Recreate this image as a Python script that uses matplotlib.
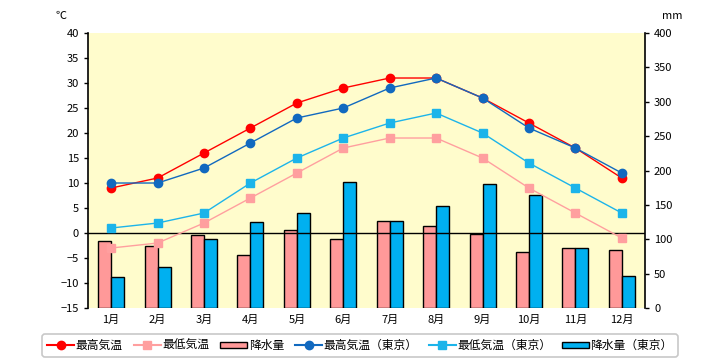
import numpy as np
import matplotlib.pyplot as plt
from matplotlib.lines import Line2D
from matplotlib.patches import Patch

plt.rcParams['font.family'] = ['Noto Sans CJK JP', 'DejaVu Sans']

months = ['1月', '2月', '3月', '4月', '5月', '6月', '7月', '8月', '9月', '10月', '11月', '12月']
tmax = [9, 11, 16, 21, 26, 29, 31, 31, 27, 22, 17, 11]
tmin = [-3, -2, 2, 7, 12, 17, 19, 19, 15, 9, 4, -1]
rain = [97, 90, 106, 77, 114, 101, 126, 119, 107, 81, 87, 84]
tmax_tokyo = [10, 10, 13, 18, 23, 25, 29, 31, 27, 21, 17, 12]
tmin_tokyo = [1, 2, 4, 10, 15, 19, 22, 24, 20, 14, 9, 4]
rain_tokyo = [45, 59, 100, 125, 138, 184, 126, 148, 180, 164, 88, 46]

x = np.arange(len(months))
w = 0.28

fig = plt.figure(figsize=(7.2, 3.6), dpi=100)
ax = fig.add_axes([0.1222, 0.1444, 0.7736, 0.7639])
ax2 = ax.twinx()

# rain bars on the right axis
ax2.bar(x - w/2, rain, w, color='#FF9999', edgecolor='black', linewidth=1.0, zorder=2)
ax2.bar(x + w/2, rain_tokyo, w, color='#00B0F0', edgecolor='black', linewidth=1.0, zorder=2)
ax2.set_ylim(0, 400)
ax2.set_yticks(range(0, 401, 50))

# temperatures drawn on top of the bars
ax.set_zorder(ax2.get_zorder() + 1)
ax.patch.set_visible(False)
ax2.patch.set_visible(True)
ax2.patch.set_facecolor('#FFFCCC')
ax.axhline(0, color='black', linewidth=1.0, zorder=1)
ax.plot(x, tmin, color='#FF9F9F', marker='s', markersize=5.5, linewidth=1.0)
ax.plot(x, tmin_tokyo, color='#1CB4EA', marker='s', markersize=5.5, linewidth=1.0)
ax.plot(x, tmax, color='#FF0000', marker='o', markersize=6, linewidth=1.0)
ax.plot(x, tmax_tokyo, color='#1169BF', marker='o', markersize=6, linewidth=1.0)
ax.set_ylim(-15, 40)
ax.set_yticks(range(-15, 41, 5))
ax.set_xlim(-0.5, 11.5)
ax.set_xticks(x)
ax.set_xticklabels(months)

for a in (ax, ax2):
    a.spines['top'].set_visible(False)
    a.spines['bottom'].set_visible(False)
    a.tick_params(labelsize=8, length=3, width=1)
ax.tick_params(axis='x', length=0, pad=5)
ax2.spines['right'].set_linewidth(1.2)
ax.spines['left'].set_linewidth(1.2)
ax.spines['right'].set_visible(False)
ax2.spines['left'].set_visible(False)

fig.text(0.085, 0.955, '℃', fontsize=8, ha='center', va='center')
fig.text(0.933, 0.955, 'mm', fontsize=8, ha='center', va='center')

handles = [
    Line2D([], [], color='#FF0000', marker='o', markersize=6),
    Line2D([], [], color='#FF9F9F', marker='s', markersize=6),
    Patch(facecolor='#FF9999', edgecolor='black'),
    Line2D([], [], color='#1169BF', marker='o', markersize=6),
    Line2D([], [], color='#1CB4EA', marker='s', markersize=6),
    Patch(facecolor='#00B0F0', edgecolor='black'),
]
labels = ['最高気温', '最低気温', '降水量', '最高気温（東京）', '最低気温（東京）', '降水量（東京）']
leg = fig.legend(handles, labels, loc='center', bbox_to_anchor=(0.5, 0.04), ncol=6,
                 fontsize=8.5, frameon=True, fancybox=True, edgecolor='#BBBBBB',
                 handlelength=2.3, handleheight=0.5, handletextpad=0.1, columnspacing=0.95,
                 borderpad=0.4)
leg.get_frame().set_linewidth(1.2)

fig.savefig('out.png', dpi=100)
